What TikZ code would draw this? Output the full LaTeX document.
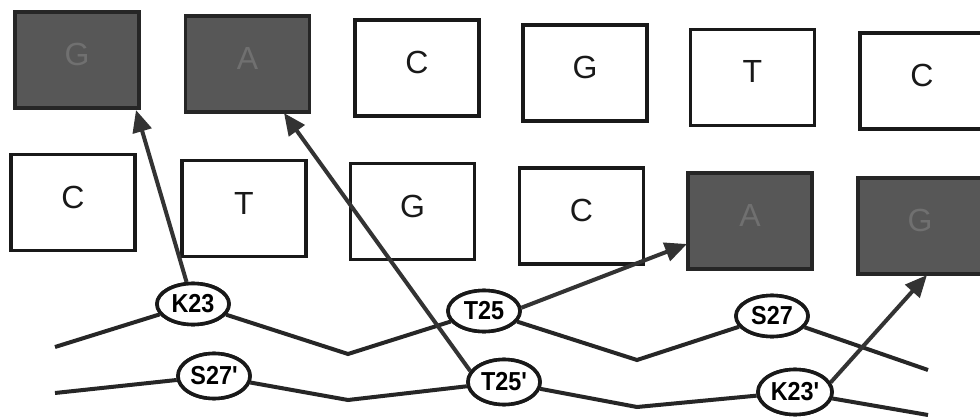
\documentclass[tikz,border=0pt]{standalone}
\usepackage{fontspec}
\setmainfont{Liberation Sans}
\newfontfamily\sitefont[FakeStretch=0.9]{Liberation Sans}
\usetikzlibrary{arrows.meta,shapes.geometric}
\begin{document}
\begin{tikzpicture}[x=1pt,y=-1pt,
  base/.style={rectangle,inner sep=0pt,minimum width=124pt,minimum height=96pt,
    line width=3.8pt,font=\fontsize{32}{34}\selectfont,text height=22pt,text depth=11pt},
  wbox/.style={base,draw=black!90,fill=white,text=black!90},
  dbox/.style={base,draw=black!85,fill=black!66,text=black!56},
  site/.style={ellipse,draw=black!90,line width=3.6pt,fill=white,inner sep=0pt,
    minimum width=72pt,minimum height=41pt,font=\sitefont\bfseries\fontsize{26}{28}\selectfont},
  strand/.style={line width=4pt,draw=black!85},
  arr/.style={line width=4pt,draw=black!80,-{Triangle[length=22pt,width=19pt]}}
]
\clip (0,0) rectangle (980,417);
\fill[white] (0,0) rectangle (980,417);
% top row
\node[dbox] (t1) at (77,60) {G};
\node[dbox] (t2) at (247.5,64) {A};
\node[wbox] (t3) at (417,68) {C};
\node[wbox] (t4) at (585,73) {G};
\node[wbox] (t5) at (752.5,77.5) {T};
\node[wbox] (t6) at (922,81) {C};
% second row
\node[wbox] (m1) at (73,202.5) {C};
\node[wbox] (m2) at (244,208.5) {T};
\node[wbox] (m3) at (412.5,211.5) {G};
\node[wbox] (m4) at (581.5,216) {C};
\node[dbox] (m5) at (750,221) {A};
\node[dbox] (m6) at (920,226) {G};
% sites
\node[site] (K23) at (193,304) {K23};
\node[site] (T25) at (484,311) {T25};
\node[site] (S27) at (772,316) {S27};
\node[site,minimum height=45pt] (S27p) at (214,376) {S27'};
\node[site,minimum height=45pt] (T25p) at (504,382) {T25'};
\node[site,minimum height=45pt,minimum width=74pt] (K23p) at (795,392) {K23'};
% strand points
\coordinate (u0) at (55,347);
\coordinate (u1) at (348,354);
\coordinate (u2) at (637,360);
\coordinate (u3) at (928,370);
\coordinate (l0) at (55,393);
\coordinate (l1) at (348,400);
\coordinate (l2) at (637,407);
\coordinate (l3) at (928,415);
% arrow tips
\coordinate (a1) at (136,110);
\coordinate (a2) at (284,113);
\coordinate (a3) at (687,244);
\coordinate (a4) at (927,275);
% strands
\draw[strand] (u0) -- (K23) -- (u1) -- (T25) -- (u2) -- (S27) -- (u3);
\draw[strand] (l0) -- (S27p) -- (l1) -- (T25p) -- (l2) -- (K23p) -- (l3);
% arrows
\draw[arr] (K23) -- (a1);
\draw[arr] (T25p.162) -- (a2);
\draw[arr] (T25.5) -- (a3);
\draw[arr] (K23p.15) -- (a4);
% redraw site nodes on top of crossings
\node[site] at (K23) {K23};
\node[site] at (T25) {T25};
\node[site] at (S27) {S27};
\node[site,minimum height=45pt] at (S27p) {S27'};
\node[site,minimum height=45pt] at (T25p) {T25'};
\node[site,minimum height=45pt,minimum width=74pt] at (K23p) {K23'};
\end{tikzpicture}
\end{document}
